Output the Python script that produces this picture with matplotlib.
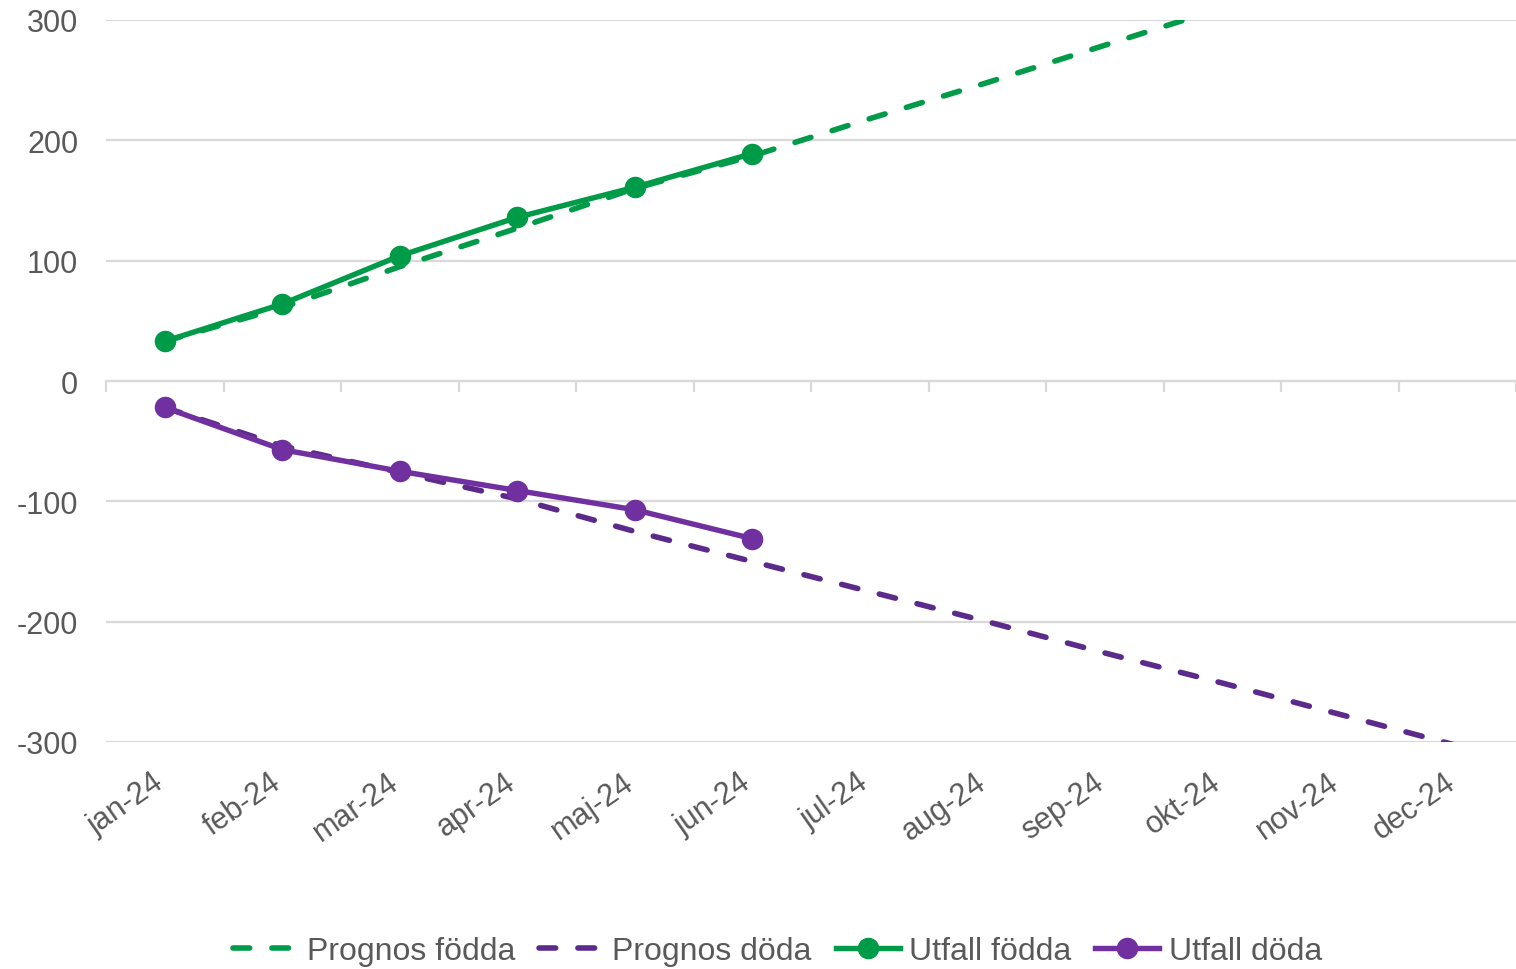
import numpy as np
import matplotlib.pyplot as plt
import matplotlib.transforms as mtransforms

plt.rcParams['font.family'] = ['Liberation Sans', 'DejaVu Sans']
plt.rcParams['axes.unicode_minus'] = False

# data
manader = ['jan-24', 'feb-24', 'mar-24', 'apr-24', 'maj-24', 'jun-24',
           'jul-24', 'aug-24', 'sep-24', 'okt-24', 'nov-24', 'dec-24']
prognos_fodda = [33, 61, 95, 127, 160, 187, 218, 248, 279, 310, 340, 371]
prognos_doda = [-22, -54, -76, -98, -125, -150, -175, -200, -226, -251, -277, -303]
utfall_fodda = [33, 64, 104, 136, 161, 189]
utfall_doda = [-22, -57, -75, -91, -107, -131]

gron = '#009B48'
lila = '#7030A0'
lila_mork = '#5B2A8A'
gra_text = '#595959'
gra_linje = '#D9D9D9'

fs = 22
streck = (0, (3.0, 4.0))

fig = plt.figure(figsize=(15.16, 9.70), dpi=100)
ax = fig.add_axes([106/1516, 1 - 743/970, 1 - 106/1516, (743 - 21)/970])

x = np.arange(len(manader))
x_utf = np.arange(len(utfall_fodda))

ax.plot(x, prognos_fodda, color=gron, lw=4.0, ls=streck,
        dash_capstyle='round', label='Prognos födda', zorder=3)
ax.plot(x, prognos_doda, color=lila_mork, lw=4.0, ls=streck,
        dash_capstyle='round', label='Prognos döda', zorder=3)
ax.plot(x_utf, utfall_fodda, color=gron, lw=3.9, marker='o', ms=14.5,
        label='Utfall födda', zorder=4)
ax.plot(x_utf, utfall_doda, color=lila, lw=3.9, marker='o', ms=14.5,
        label='Utfall döda', zorder=4)

ax.set_xlim(-0.5, len(manader) - 0.5)
ax.set_ylim(-300, 300)
ax.set_yticks([-300, -200, -100, 0, 100, 200, 300])
ax.yaxis.grid(True, color=gra_linje, lw=1.6)
ax.set_axisbelow(True)
ax.tick_params(axis='y', length=0, labelsize=fs, labelcolor=gra_text, pad=20)

for s in ['top', 'right', 'left']:
    ax.spines[s].set_visible(False)
ax.spines['bottom'].set_position(('data', 0))
ax.spines['bottom'].set_color(gra_linje)
ax.spines['bottom'].set_linewidth(1.6)

# tick marks between the months on the zero line
ax.set_xticks(np.arange(-0.5, len(manader), 1.0))
ax.set_xticklabels([])
ax.tick_params(axis='x', length=8, width=1.6, color=gra_linje, direction='out')

# month labels at the bottom of the plot
sec = ax.secondary_xaxis(0.0)
sec.set_xticks(x)
sec.set_xticklabels(manader, rotation=35, ha='right', rotation_mode='anchor')
sec.tick_params(length=0, labelsize=fs, labelcolor=gra_text, pad=18)
sec.spines['bottom'].set_visible(False)
skift = mtransforms.ScaledTranslation(-0.13, 0, fig.dpi_scale_trans)
for lab in sec.get_xticklabels():
    lab.set_transform(lab.get_transform() + skift)

leg = fig.legend(loc='lower center', bbox_to_anchor=(0.513, -0.027), ncol=4,
                 frameon=False, fontsize=23, handlelength=2.0,
                 handletextpad=0.3, columnspacing=0.75)
for t in leg.get_texts():
    t.set_color(gra_text)

fig.savefig('out.png', dpi=100)
